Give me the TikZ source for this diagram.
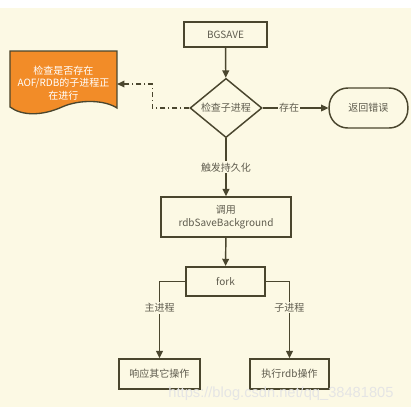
\documentclass[tikz,border=0pt]{standalone}
\usepackage{fontspec}
\setmainfont{Noto Sans CJK SC}
\newfontfamily\wmfont{Liberation Sans}
\usepackage{tikz}
\usetikzlibrary{arrows.meta,shapes.geometric}
\definecolor{bgcream}{RGB}{252,249,228}
\definecolor{lineolive}{RGB}{74,70,46}
\definecolor{textgray}{RGB}{95,92,78}
\definecolor{docorange}{RGB}{242,140,40}

\tikzset{
  flowbox/.style={draw=lineolive, line width=1.1pt, fill=bgcream, text=textgray,
    font=\fontsize{7.5}{9}\selectfont, inner sep=0pt, align=center},
  flowline/.style={draw=lineolive, line width=1.1pt,
    -{Triangle[length=5.5pt,width=5pt]}},
  linelabel/.style={fill=bgcream, text=textgray, inner sep=1pt,
    font=\fontsize{7.5}{9}\selectfont}
}

\begin{document}
\begin{tikzpicture}[x=0.75pt, y=-0.75pt]
      % canvas
      \useasboundingbox (0,0) rectangle (411,412);
      \fill[white] (0,0) rectangle (411,412);
      \fill[bgcream] (0,8) rectangle (411,407);
      % main column
      \node[flowbox, minimum width=62pt, minimum height=19pt] (bgsave) at (225.5,34.5) {BGSAVE};
      \node[flowbox, diamond, minimum width=54pt, minimum height=42pt] (check) at (226,108) {检查子进程};
      \node[flowbox, minimum width=97.5pt, minimum height=30pt] (rdbcall) at (226,217)
        {调用\\[1pt]rdbSaveBackground};
      \node[flowbox, minimum width=59pt, minimum height=22pt] (fork) at (225.5,281.5) {fork};
      % error exit on the right
      \node[flowbox, rounded corners=14pt, minimum width=59pt, minimum height=30pt] (err) at (368.5,108) {返回错误};
      % document shape on the left
      \node[minimum width=80pt, minimum height=49.5pt, inner sep=0pt] (doc) at (63.5,84) {};
      \filldraw[fill=docorange, draw=lineolive, line width=1pt]
        (10,51) -- (117,51) -- (117,108)
        .. controls (105,100) and (80,99) .. (62,107)
        .. controls (42,116) and (22,116) .. (10,107) -- cycle;
      \node[text=white, align=center, font=\fontsize{7.5}{9.4}\selectfont] (doctext) at (63.5,83)
        {检查是否存在\\AOF/RDB的子进程正\\在进行};
      % two branches under fork
      \node[flowbox, minimum width=61pt, minimum height=22.5pt] (reply) at (159.5,374) {响应其它操作};
      \node[flowbox, minimum width=59pt, minimum height=22.5pt] (dump) at (289.5,374) {执行rdb操作};
      % connectors
      \draw[flowline] (bgsave) -- (check);
      \draw[flowline] (check.east) -- node[linelabel, pos=0.4] {存在} (err.west);
      \draw[flowline, dash pattern=on 4pt off 2pt on 1pt off 2pt]
        (check.west) -- ++(-37,0) |- (doc.east);
      \draw[flowline] (check.south) -- node[linelabel, pos=0.5] {触发持久化} (rdbcall.north);
      \draw[flowline] (rdbcall) -- (fork);
      \draw[flowline] (fork.west) -| node[linelabel, pos=0.67] {主进程} (reply.north);
      \draw[flowline] (fork.east) -| node[linelabel, pos=0.67] {子进程} (dump.north);
      % watermark
      \node[text=white!80!gray, font=\wmfont\fontsize{11}{12}\selectfont] (mark) at (281,394)
        {https://blog.csdn.net/qq\_38481805};
    \end{tikzpicture}
\end{document}
